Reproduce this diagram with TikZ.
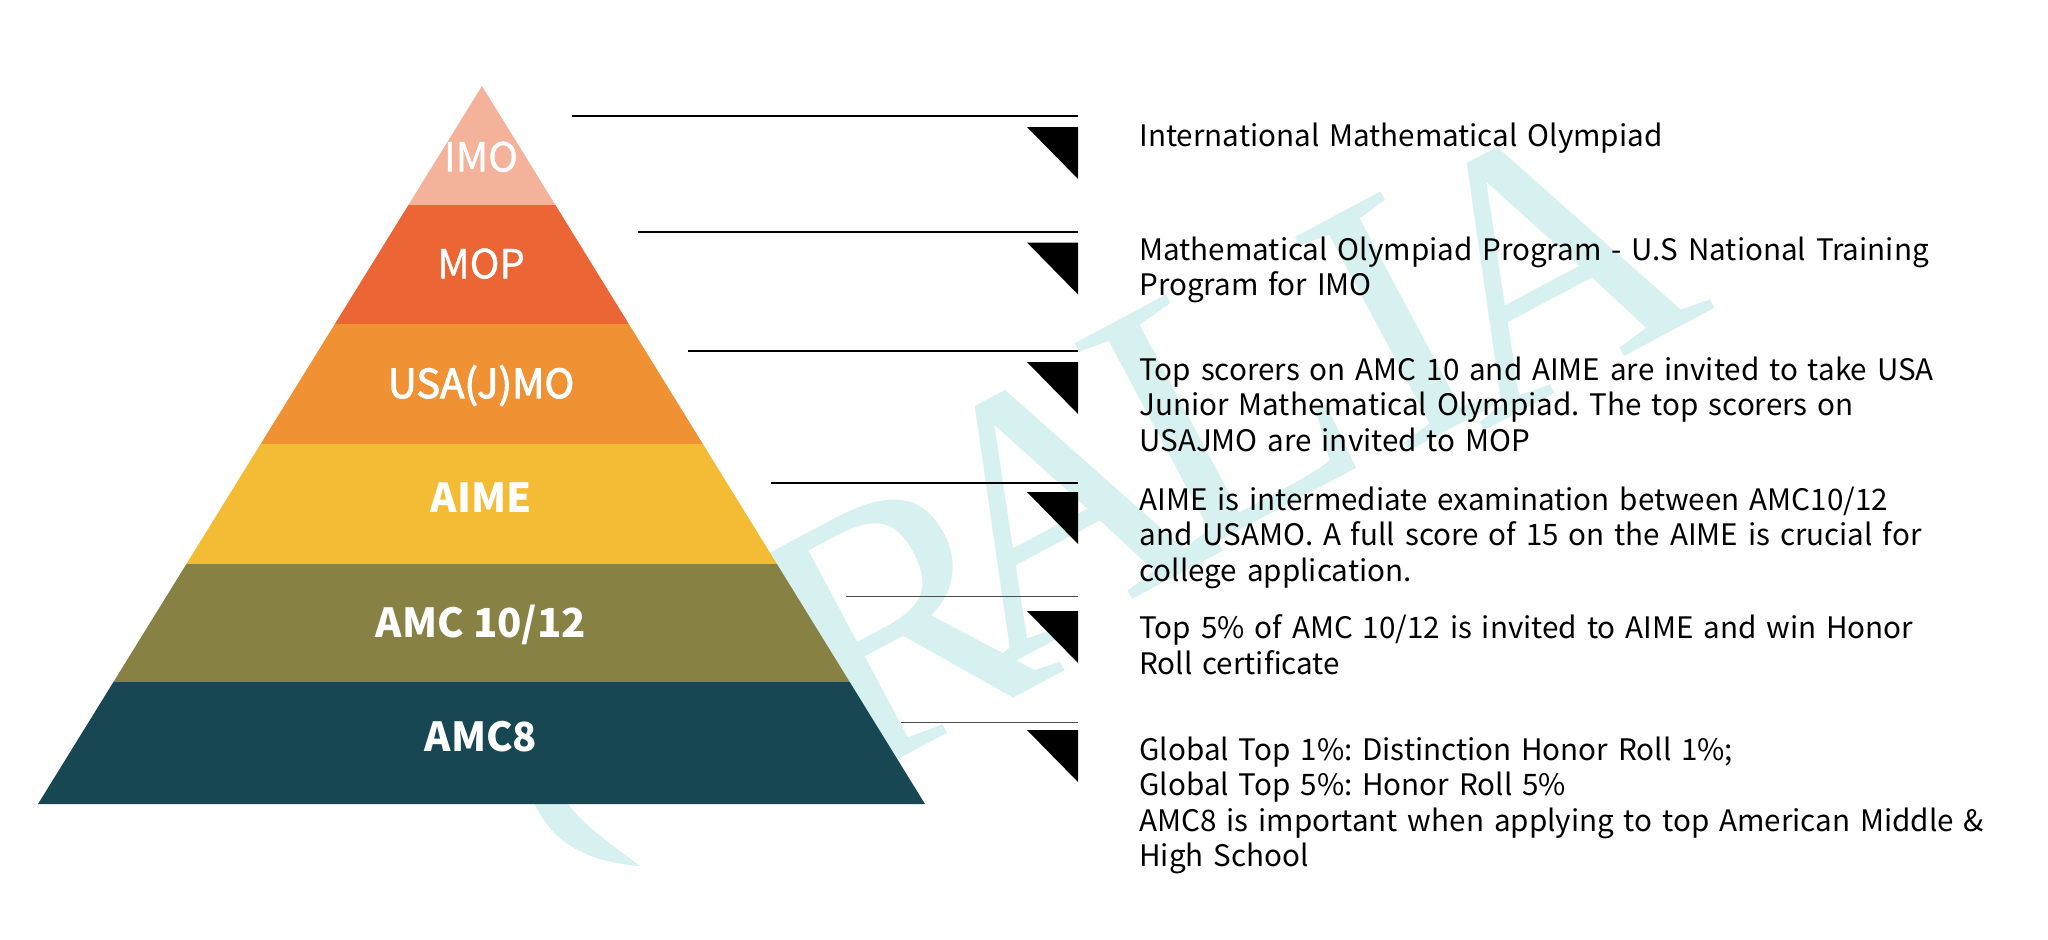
\documentclass[tikz,border=0pt]{standalone}
\usepackage{fontspec}
\frenchspacing
\newfontfamily\notosans{Noto Sans CJK SC}
\newfontfamily\notolight{Noto Sans CJK SC}[FakeBold=1]
\newfontfamily\notomed{Noto Sans CJK SC}[FakeBold=2.5]
\newfontfamily\wmserif{Liberation Serif}
\definecolor{cIMO}{RGB}{245,178,155}
\definecolor{cMOP}{RGB}{235,101,53}
\definecolor{cUSA}{RGB}{240,145,52}
\definecolor{cAIME}{RGB}{243,188,52}
\definecolor{cAMC}{RGB}{135,129,67}
\definecolor{cAMCe}{RGB}{24,71,84}
\definecolor{wmcol}{RGB}{214,241,239}
\tikzset{
  lab/.style={anchor=base, text=white, inner sep=0pt, font=\notolight\fontsize{20bp}{24bp}\selectfont},
  labm/.style={lab, font=\notomed\fontsize{20bp}{24bp}\selectfont},
  labb/.style={lab, font=\notosans\bfseries\fontsize{20bp}{24bp}\selectfont},
  desc/.style={anchor=base west, inner sep=0pt, text width=520bp, align=left,
     font=\notosans\fontsize{14.8bp}{17.75bp}\selectfont},
  wm/.style={text=wmcol, inner sep=0pt, font=\wmserif\fontsize{185bp}{185bp}\selectfont, rotate=28},
  rule/.style={line width=1bp, black},
  rulegray/.style={line width=0.8bp, black!70},
  marker/.style={fill=black}
}
\begin{document}
\begin{tikzpicture}[x=0.5bp,y=-0.5bp]
\useasboundingbox (0,0) rectangle (2048,939);
\fill[white] (0,0) rectangle (2048,939);
% watermark
\node[wm] (wR) at (900,622) {R};
\node[wm] (wA1) at (1050,505) {A};
\node[wm] (wL) at (1222,402) {L};
\node[wm] (wI) at (1395,322) {I};
\node[wm] (wA2) at (1542,262) {A};
\fill[wmcol] (533,800) .. controls (552,845) and (590,862) .. (640,866)
   .. controls (605,840) and (580,822) .. (565,800) -- cycle;
% pyramid
\coordinate (apex) at (482,86);
\coordinate (bl) at (38,804);
\coordinate (br) at (925,804);
\begin{scope}
\clip (apex) -- (bl) -- (br) -- cycle;
\fill[cIMO] (0,80) rectangle (1000,205);
\fill[cMOP] (0,205) rectangle (1000,324);
\fill[cUSA] (0,324) rectangle (1000,444);
\fill[cAIME] (0,444) rectangle (1000,564);
\fill[cAMC] (0,564) rectangle (1000,682);
\fill[cAMCe] (0,682) rectangle (1000,810);
\end{scope}
\node[lab] (imo) at (481,171.5) {IMO};
\node[lab] (mop) at (481,278.3) {MOP};
\node[labm] (usa) at (481,398) {USA(J)MO};
\node[labb] (aime) at (481,512.7) {AIME};
\node[labb] (amc) at (481,637) {AMC 10/12};
\node[labb] (amc8) at (481,751) {AMC8};
% rules
\draw[rule] (572,116) -- (1078,116);
\draw[rule] (638,232) -- (1078,232);
\draw[rule] (688,351) -- (1078,351);
\draw[rule] (771,482.5) -- (1078,482.5);
\draw[rulegray] (846,596.5) -- (1078,596.5);
\draw[rulegray] (901,722.5) -- (1078,722.5);
% markers
\foreach \t in {127,242.5,362,492,611,730}
  \fill[marker] (1027,\t) -- (1078,\t) -- (1078,\t+52) -- cycle;
% descriptions
\node[desc] (d1) at (1139,146) {International Mathematical Olympiad};
\node[desc] (d2) at (1139,260) {Mathematical Olympiad Program - U.S National Training\\Program for IMO};
\node[desc] (d3) at (1139,380) {Top scorers on AMC 10 and AIME are invited to take USA\\Junior Mathematical Olympiad. The top scorers on\\USAJMO are invited to MOP};
\node[desc] (d4) at (1139,510) {AIME is intermediate examination between AMC10/12\\and USAMO. A full score of 15 on the AIME is crucial for\\college application.};
\node[desc] (d5) at (1139,638.5) {Top 5\% of AMC 10/12 is invited to AIME and win Honor\\Roll certificate};
\node[desc] (d6) at (1139,760) {Global Top 1\%: Distinction Honor Roll 1\%;\\Global Top 5\%: Honor Roll 5\%\\AMC8 is important when applying to top American Middle \&\\High School};
\end{tikzpicture}
\end{document}
